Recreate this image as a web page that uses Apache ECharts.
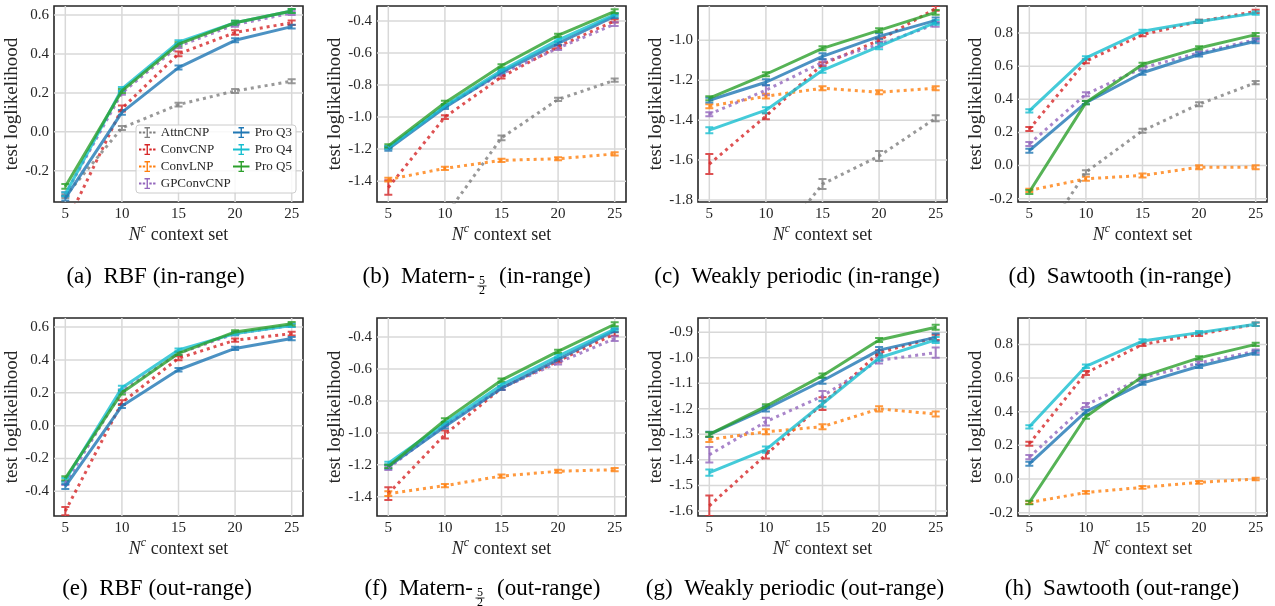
<!DOCTYPE html>
<html><head><meta charset="utf-8">
<script src="https://cdn.jsdelivr.net/npm/echarts@6/dist/echarts.min.js"></script>
<style>html,body{margin:0;padding:0;background:#fff}#c{width:1275px;height:606px}</style>
</head><body><div id="c"></div>
<script>
const N = null;
const contextSizes = [5, 10, 15, 20, 25];
const models = ['AttnCNP', 'ConvCNP', 'ConvLNP', 'GPConvCNP', 'Pro Q3', 'Pro Q4', 'Pro Q5'];

// y tick labels per panel
const rbfInYTicks = [-0.2, 0.0, 0.2, 0.4, 0.6];
const maternInYTicks = [-1.4, -1.2, -1.0, -0.8, -0.6, -0.4];
const weaklyInYTicks = [-1.8, -1.6, -1.4, -1.2, -1.0];
const sawInYTicks = [-0.2, 0.0, 0.2, 0.4, 0.6, 0.8];
const rbfOutYTicks = [-0.4, -0.2, 0.0, 0.2, 0.4, 0.6];
const maternOutYTicks = [-1.4, -1.2, -1.0, -0.8, -0.6, -0.4];
const weaklyOutYTicks = [-1.6, -1.5, -1.4, -1.3, -1.2, -1.1, -1.0, -0.9];
const sawOutYTicks = [-0.2, 0.0, 0.2, 0.4, 0.6, 0.8];

// means (rows follow `models`)
const rbfInMean = [
  [-0.33, 0.02, 0.14, 0.21, 0.26],
  [-0.48, 0.12, 0.40, 0.51, 0.56],
  [N, N, N, N, N],
  [-0.32, 0.20, 0.44, 0.55, 0.61],
  [-0.34, 0.10, 0.33, 0.47, 0.54],
  [-0.32, 0.22, 0.46, 0.56, 0.62],
  [-0.28, 0.21, 0.45, 0.56, 0.62]
];
const rbfInErr = [
  [0.01, 0.01, 0.01, 0.01, 0.01],
  [0.02, 0.015, 0.012, 0.012, 0.012],
  [0.01, 0.01, 0.01, 0.01, 0.01],
  [0.01, 0.01, 0.01, 0.01, 0.01],
  [0.012, 0.012, 0.01, 0.01, 0.01],
  [0.01, 0.01, 0.01, 0.01, 0.01],
  [0.012, 0.01, 0.01, 0.01, 0.01]
];
const maternInMean = [
  [N, -1.62, -1.13, -0.89, -0.77],
  [-1.44, -1.00, -0.75, -0.56, -0.40],
  [-1.39, -1.32, -1.27, -1.26, -1.23],
  [-1.19, -0.93, -0.73, -0.57, -0.42],
  [-1.20, -0.94, -0.72, -0.54, -0.37],
  [-1.19, -0.93, -0.71, -0.52, -0.36],
  [-1.18, -0.91, -0.68, -0.49, -0.34]
];
const maternInErr = [
  [0.01, 0.01, 0.015, 0.01, 0.01],
  [0.045, 0.012, 0.01, 0.01, 0.01],
  [0.012, 0.01, 0.01, 0.01, 0.01],
  [0.01, 0.01, 0.01, 0.012, 0.012],
  [0.01, 0.01, 0.01, 0.01, 0.012],
  [0.01, 0.01, 0.01, 0.01, 0.01],
  [0.01, 0.012, 0.01, 0.01, 0.012]
];
const weaklyInMean = [
  [N, -2.08, -1.72, -1.58, -1.39],
  [-1.62, -1.38, -1.12, -1.00, -0.84],
  [-1.33, -1.28, -1.24, -1.26, -1.24],
  [-1.37, -1.25, -1.11, -1.02, -0.92],
  [-1.30, -1.21, -1.08, -0.98, -0.90],
  [-1.45, -1.35, -1.15, -1.03, -0.91],
  [-1.29, -1.17, -1.04, -0.95, -0.86]
];
const weaklyInErr = [
  [0.01, 0.01, 0.025, 0.025, 0.015],
  [0.05, 0.015, 0.01, 0.01, 0.012],
  [0.01, 0.012, 0.01, 0.01, 0.01],
  [0.01, 0.025, 0.015, 0.012, 0.012],
  [0.012, 0.015, 0.015, 0.015, 0.015],
  [0.015, 0.015, 0.012, 0.015, 0.012],
  [0.01, 0.01, 0.01, 0.01, 0.012]
];
const sawInMean = [
  [-0.56, -0.04, 0.21, 0.37, 0.50],
  [0.22, 0.63, 0.79, 0.87, 0.93],
  [-0.15, -0.08, -0.06, -0.01, -0.01],
  [0.13, 0.43, 0.59, 0.68, 0.76],
  [0.09, 0.38, 0.56, 0.67, 0.75],
  [0.33, 0.65, 0.81, 0.87, 0.92],
  [-0.16, 0.38, 0.61, 0.71, 0.79]
];
const sawInErr = [
  [0.01, 0.012, 0.012, 0.012, 0.01],
  [0.012, 0.012, 0.01, 0.01, 0.01],
  [0.01, 0.012, 0.012, 0.012, 0.012],
  [0.012, 0.012, 0.01, 0.01, 0.01],
  [0.012, 0.01, 0.012, 0.012, 0.012],
  [0.01, 0.01, 0.01, 0.01, 0.01],
  [0.012, 0.01, 0.01, 0.01, 0.01]
];
const rbfOutMean = [
  [N, N, N, N, N],
  [-0.52, 0.14, 0.41, 0.52, 0.56],
  [N, N, N, N, N],
  [-0.35, 0.21, 0.44, 0.56, 0.61],
  [-0.37, 0.12, 0.34, 0.47, 0.53],
  [-0.33, 0.23, 0.46, 0.56, 0.61],
  [-0.32, 0.20, 0.44, 0.57, 0.62]
];
const rbfOutErr = [
  [0.01, 0.01, 0.01, 0.01, 0.01],
  [0.025, 0.015, 0.012, 0.01, 0.012],
  [0.01, 0.01, 0.01, 0.01, 0.01],
  [0.012, 0.01, 0.01, 0.01, 0.01],
  [0.015, 0.012, 0.01, 0.01, 0.01],
  [0.012, 0.012, 0.01, 0.01, 0.01],
  [0.012, 0.01, 0.01, 0.01, 0.01]
];
const maternOutMean = [
  [N, N, N, N, N],
  [-1.38, -1.01, -0.72, -0.55, -0.38],
  [-1.38, -1.33, -1.27, -1.24, -1.23],
  [-1.22, -0.95, -0.72, -0.56, -0.41],
  [-1.21, -0.96, -0.72, -0.54, -0.36],
  [-1.19, -0.94, -0.70, -0.52, -0.35],
  [-1.21, -0.92, -0.67, -0.49, -0.32]
];
const maternOutErr = [
  [0.01, 0.01, 0.01, 0.01, 0.01],
  [0.04, 0.025, 0.012, 0.01, 0.012],
  [0.015, 0.01, 0.01, 0.01, 0.01],
  [0.012, 0.01, 0.01, 0.012, 0.015],
  [0.012, 0.012, 0.01, 0.01, 0.01],
  [0.01, 0.01, 0.01, 0.01, 0.01],
  [0.01, 0.012, 0.01, 0.01, 0.012]
];
const weaklyOutMean = [
  [N, N, N, N, N],
  [-1.58, -1.38, -1.18, -0.98, -0.92],
  [-1.32, -1.29, -1.27, -1.20, -1.22],
  [-1.38, -1.25, -1.15, -1.01, -0.98],
  [-1.30, -1.20, -1.09, -0.97, -0.92],
  [-1.45, -1.36, -1.18, -1.00, -0.93],
  [-1.30, -1.19, -1.07, -0.93, -0.88]
];
const weaklyOutErr = [
  [0.01, 0.01, 0.01, 0.01, 0.01],
  [0.04, 0.015, 0.025, 0.01, 0.01],
  [0.01, 0.01, 0.01, 0.01, 0.01],
  [0.03, 0.015, 0.02, 0.012, 0.02],
  [0.01, 0.01, 0.012, 0.012, 0.015],
  [0.012, 0.012, 0.012, 0.012, 0.012],
  [0.008, 0.008, 0.008, 0.008, 0.01]
];
const sawOutMean = [
  [N, N, N, N, N],
  [0.21, 0.63, 0.80, 0.86, 0.92],
  [-0.14, -0.08, -0.05, -0.02, 0.00],
  [0.13, 0.44, 0.60, 0.69, 0.76],
  [0.09, 0.40, 0.57, 0.67, 0.75],
  [0.31, 0.67, 0.82, 0.87, 0.92],
  [-0.14, 0.37, 0.61, 0.72, 0.80]
];
const sawOutErr = [
  [0.01, 0.01, 0.01, 0.01, 0.01],
  [0.012, 0.012, 0.01, 0.01, 0.01],
  [0.008, 0.008, 0.008, 0.008, 0.008],
  [0.012, 0.012, 0.01, 0.01, 0.01],
  [0.012, 0.012, 0.01, 0.01, 0.012],
  [0.01, 0.01, 0.01, 0.01, 0.01],
  [0.01, 0.012, 0.01, 0.01, 0.01]
];

const captions = [
  '(a)  RBF (in-range)', '(b)  Matern-', '(c)  Weakly periodic (in-range)', '(d)  Sawtooth (in-range)',
  '(e)  RBF (out-range)', '(f)  Matern-', '(g)  Weakly periodic (out-range)', '(h)  Sawtooth (out-range)'
];

// ---------- layout / style ----------
const FONT = 'Liberation Serif';
const TXT = '#262626';
const GRID_COLOR = '#d8d8d8';
const colors = ['#7f7f7f', '#d62728', '#ff7f0e', '#9467bd', '#1f77b4', '#17becf', '#2ca02c'];
const dotted = [true, true, true, true, false, false, false];

const panels = [
  { mean: rbfInMean, err: rbfInErr, ticks: rbfInYTicks, yMin: -0.36, yMax: 0.646 },
  { mean: maternInMean, err: maternInErr, ticks: maternInYTicks, yMin: -1.53, yMax: -0.307 },
  { mean: weaklyInMean, err: weaklyInErr, ticks: weaklyInYTicks, yMin: -1.81, yMax: -0.828 },
  { mean: sawInMean, err: sawInErr, ticks: sawInYTicks, yMin: -0.22, yMax: 0.963 },
  { mean: rbfOutMean, err: rbfOutErr, ticks: rbfOutYTicks, yMin: -0.55, yMax: 0.655 },
  { mean: maternOutMean, err: maternOutErr, ticks: maternOutYTicks, yMin: -1.52, yMax: -0.281 },
  { mean: weaklyOutMean, err: weaklyOutErr, ticks: weaklyOutYTicks, yMin: -1.62, yMax: -0.844 },
  { mean: sawOutMean, err: sawOutErr, ticks: sawOutYTicks, yMin: -0.22, yMax: 0.957 }
];
const colLefts = [54, 377, 698, 1018];
const rowTops = [6, 318];
const rowHeights = [196, 198];
const gridW = 249;
const captionX = [155.5, 0, 797, 1120, 157, 0, 795, 1122];
const captionY = [277, 589];
const CAP_FONT = `23px "${FONT}"`;

function errIcon(isDotted) {
  let p = 'path://M8,0H16V2H8Z M11,0H13V16H11Z M8,14H16V16H8Z';
  if (isDotted) p += ' M0,6.5H3.5V9.5H0Z M5.5,6.5H9V9.5H5.5Z M15,6.5H18.5V9.5H15Z M20.5,6.5H24V9.5H20.5Z';
  else p += ' M0,6.5H24V9.5H0Z';
  return p;
}

function hexA(hex, a) {
  const n = parseInt(hex.slice(1), 16);
  return `rgba(${(n >> 16) & 255},${(n >> 8) & 255},${n & 255},${a})`;
}

const grids = [], xAxes = [], yAxes = [], series = [];
panels.forEach((p, i) => {
  const col = i % 4, row = Math.floor(i / 4);
  grids.push({
    left: colLefts[col], top: rowTops[row], width: gridW, height: rowHeights[row],
    show: true, borderColor: '#262626', borderWidth: 1.6, backgroundColor: '#fff'
  });
  xAxes.push({
    type: 'value', gridIndex: i, min: 4, max: 26, interval: 1,
    axisLine: { show: false }, axisTick: { show: false }, splitLine: { show: false },
    axisLabel: {
      fontFamily: FONT, fontSize: 15, color: TXT, margin: 5,
      formatter: v => (Math.abs(v - Math.round(v)) < 1e-6 && contextSizes.includes(Math.round(v))) ? String(Math.round(v)) : ''
    },
    name: '{n|N}{s|c} context set', nameLocation: 'middle', nameGap: 19,
    nameTextStyle: {
      fontFamily: FONT, fontSize: 18, color: TXT, lineHeight: 24,
      rich: {
        n: { fontFamily: FONT, fontSize: 18, fontStyle: 'italic', color: TXT, lineHeight: 24 },
        s: { fontFamily: FONT, fontSize: 12, fontStyle: 'italic', color: TXT, lineHeight: 12, verticalAlign: 'top' }
      }
    }
  });
  yAxes.push({
    type: 'value', gridIndex: i, min: p.yMin, max: p.yMax, interval: 0.01,
    axisLine: { show: false }, axisTick: { show: false }, splitLine: { show: false },
    axisLabel: {
      fontFamily: FONT, fontSize: 15, color: TXT, margin: 5,
      formatter: v => {
        const t = p.ticks.find(t => Math.abs(t - v) < 1e-6);
        if (t === undefined) return '';
        return Math.abs(t) < 1e-9 ? '0.0' : t.toFixed(1);
      }
    },
    name: 'test loglikelihood', nameLocation: 'middle', nameGap: 31,
    nameTextStyle: { fontFamily: FONT, fontSize: 19, color: TXT }
  });
  // grid lines (vertical / horizontal) through the axis scales
  series.push({
    type: 'custom', xAxisIndex: i, yAxisIndex: i, silent: true, z: 1, clip: true,
    data: contextSizes.map(v => [v, p.yMin]), encode: { x: 0, y: 1 },
    renderItem: (params, api) => {
      const cs = params.coordSys;
      const x = api.coord([api.value(0), api.value(1)])[0];
      return { type: 'line', shape: { x1: x, y1: cs.y, x2: x, y2: cs.y + cs.height }, style: { stroke: GRID_COLOR, lineWidth: 1.5 } };
    }
  });
  series.push({
    type: 'custom', xAxisIndex: i, yAxisIndex: i, silent: true, z: 1, clip: true,
    data: p.ticks.map(v => [5, v]), encode: { x: 0, y: 1 },
    renderItem: (params, api) => {
      const cs = params.coordSys;
      const y = api.coord([api.value(0), api.value(1)])[1];
      return { type: 'line', shape: { x1: cs.x, y1: y, x2: cs.x + cs.width, y2: y }, style: { stroke: GRID_COLOR, lineWidth: 1.5 } };
    }
  });
  models.forEach((m, k) => {
    const c = colors[k];
    series.push({
      type: 'line', name: m, xAxisIndex: i, yAxisIndex: i, z: 3,
      data: contextSizes.map((x, j) => [x, p.mean[k][j]]),
      symbol: 'none', showSymbol: false, connectNulls: false, clip: true,
      lineStyle: { color: hexA(c, 0.8), width: 3, type: dotted[k] ? [3, 4] : 'solid', cap: 'butt' },
      itemStyle: { color: c },
      emphasis: { disabled: true }, animation: false
    });
    series.push({
      type: 'custom', name: m, xAxisIndex: i, yAxisIndex: i, z: 3, clip: true, silent: true,
      data: contextSizes.map((x, j) => [x, p.mean[k][j], p.err[k][j]]).filter(d => d[1] !== null),
      encode: { x: 0, y: 1 },
      renderItem: (params, api) => {
        const x = api.value(0), mu = api.value(1), e = api.value(2);
        const pt = api.coord([x, mu + e]), pb = api.coord([x, mu - e]);
        const cx = pt[0], hw = 4;
        return {
          type: 'path',
          shape: { pathData: `M${cx - hw},${pt[1]}H${cx + hw}M${cx},${pt[1]}V${pb[1]}M${cx - hw},${pb[1]}H${cx + hw}` },
          style: { stroke: hexA(c, 0.8), fill: null, lineWidth: 2 }
        };
      },
      animation: false
    });
  });
});

// captions
const graphics = [];
captions.forEach((t, i) => {
  const row = Math.floor(i / 4), y = captionY[row];
  if (i % 4 === 1) {
    const fx = row === 0 ? 482 : 480;
    const tail = row === 0 ? '(in-range)' : '(out-range)';
    graphics.push({ type: 'text', x: fx - 7, y: y, style: { text: t, font: CAP_FONT, fill: '#000', textAlign: 'right', textVerticalAlign: 'middle' } });
    graphics.push({ type: 'text', x: fx, y: y + 4, style: { text: '5', font: `12px "${FONT}"`, fill: '#000', textAlign: 'center', textVerticalAlign: 'middle' } });
    graphics.push({ type: 'line', shape: { x1: fx - 4.5, y1: y + 9, x2: fx + 4.5, y2: y + 9 }, style: { stroke: '#000', lineWidth: 0.8 } });
    graphics.push({ type: 'text', x: fx, y: y + 14, style: { text: '2', font: `12px "${FONT}"`, fill: '#000', textAlign: 'center', textVerticalAlign: 'middle' } });
    graphics.push({ type: 'text', x: fx + 17, y: y, style: { text: tail, font: CAP_FONT, fill: '#000', textAlign: 'left', textVerticalAlign: 'middle' } });
  } else {
    graphics.push({ type: 'text', x: captionX[i], y: y, style: { text: t, font: CAP_FONT, fill: '#000', textAlign: 'center', textVerticalAlign: 'middle' } });
  }
});
// legend frame
graphics.push({ type: 'rect', z: 3, shape: { x: 136, y: 125, width: 160, height: 68, r: 3 }, style: { fill: 'rgba(255,255,255,0.85)', stroke: '#cccccc', lineWidth: 1 } });

const legendCommon = {
  orient: 'vertical', itemWidth: 17, itemHeight: 11, itemGap: 4, z: 5, selectedMode: false,
  textStyle: { fontFamily: FONT, fontSize: 13, color: TXT }, padding: 0
};
const chart = echarts.init(document.getElementById('c'), null, { renderer: 'canvas' });
chart.setOption({
  backgroundColor: '#fff',
  animation: false,
  grid: grids, xAxis: xAxes, yAxis: yAxes, series: series,
  graphic: graphics,
  legend: [
    Object.assign({ left: 139, top: 126, data: models.slice(0, 4).map((n, k) => ({ name: n, icon: errIcon(dotted[k]) })) }, legendCommon),
    Object.assign({ left: 233, top: 126, data: models.slice(4).map((n, k) => ({ name: n, icon: errIcon(dotted[k + 4]) })) }, legendCommon)
  ]
});
</script></body></html>
